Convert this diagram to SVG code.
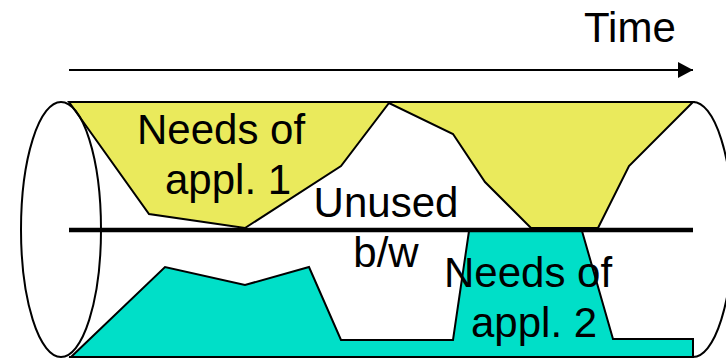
<svg xmlns="http://www.w3.org/2000/svg" width="726" height="358" viewBox="0 0 726 358">
  <defs>
    <marker id="arrowhead" markerWidth="16" markerHeight="16" refX="15" refY="8" orient="auto" markerUnits="userSpaceOnUse">
      <polygon points="0,0 15,8 0,16" fill="#000"/>
    </marker>
    <style>
      .lbl { font-family: "Liberation Sans", Arial, sans-serif; font-size: 42px; fill: #000; }
      .edge { fill: none; stroke: #000; stroke-width: 2; }
      .area { stroke: #000; stroke-width: 2; stroke-linejoin: miter; }
    </style>
  </defs>

  <rect width="726" height="358" fill="#fff"/>

  <!-- bandwidth demand of application 1 (upper half) -->
  <g id="app1">
    <polygon class="area" fill="#EAEA5C" points="69,102 149,214 245,228 341,166 389,103 453,134 485,182 531,228 598,228 629,166 693,102"/>
  </g>

  <!-- bandwidth demand of application 2 (lower half) -->
  <g id="app2">
    <polygon class="area" fill="#00DFC8" points="71,357 165,267 245,285 309,267 341,340 453,340 469,231 582,231 613,339 693,339 693,357"/>
  </g>

  <!-- pipe outline -->
  <g id="pipe">
    <line class="edge" x1="69" y1="102" x2="693" y2="102"/>
    <line class="edge" x1="69" y1="357" x2="693" y2="357"/>
    <line x1="69" y1="230" x2="693" y2="230" stroke="#000" stroke-width="4.5"/>
    <ellipse class="edge" cx="61" cy="229.5" rx="40" ry="127.5"/>
    <path class="edge" d="M693,102 A40,127.5 0 0 1 693,357"/>
  </g>

  <!-- time axis -->
  <g id="time">
    <line x1="69" y1="70" x2="693" y2="70" stroke="#000" stroke-width="2" marker-end="url(#arrowhead)"/>
    <text class="lbl" x="584" y="42">Time</text>
  </g>

  <g id="label-app1">
    <text class="lbl" x="137" y="144">Needs of</text>
    <text class="lbl" x="165" y="194">appl. 1</text>
  </g>

  <g id="label-unused">
    <text class="lbl" x="386" y="217" text-anchor="middle">Unused</text>
    <text class="lbl" x="386" y="267" text-anchor="middle">b/w</text>
  </g>

  <g id="label-app2">
    <text class="lbl" x="444" y="287">Needs of</text>
    <text class="lbl" x="471" y="337">appl. 2</text>
  </g>
</svg>
